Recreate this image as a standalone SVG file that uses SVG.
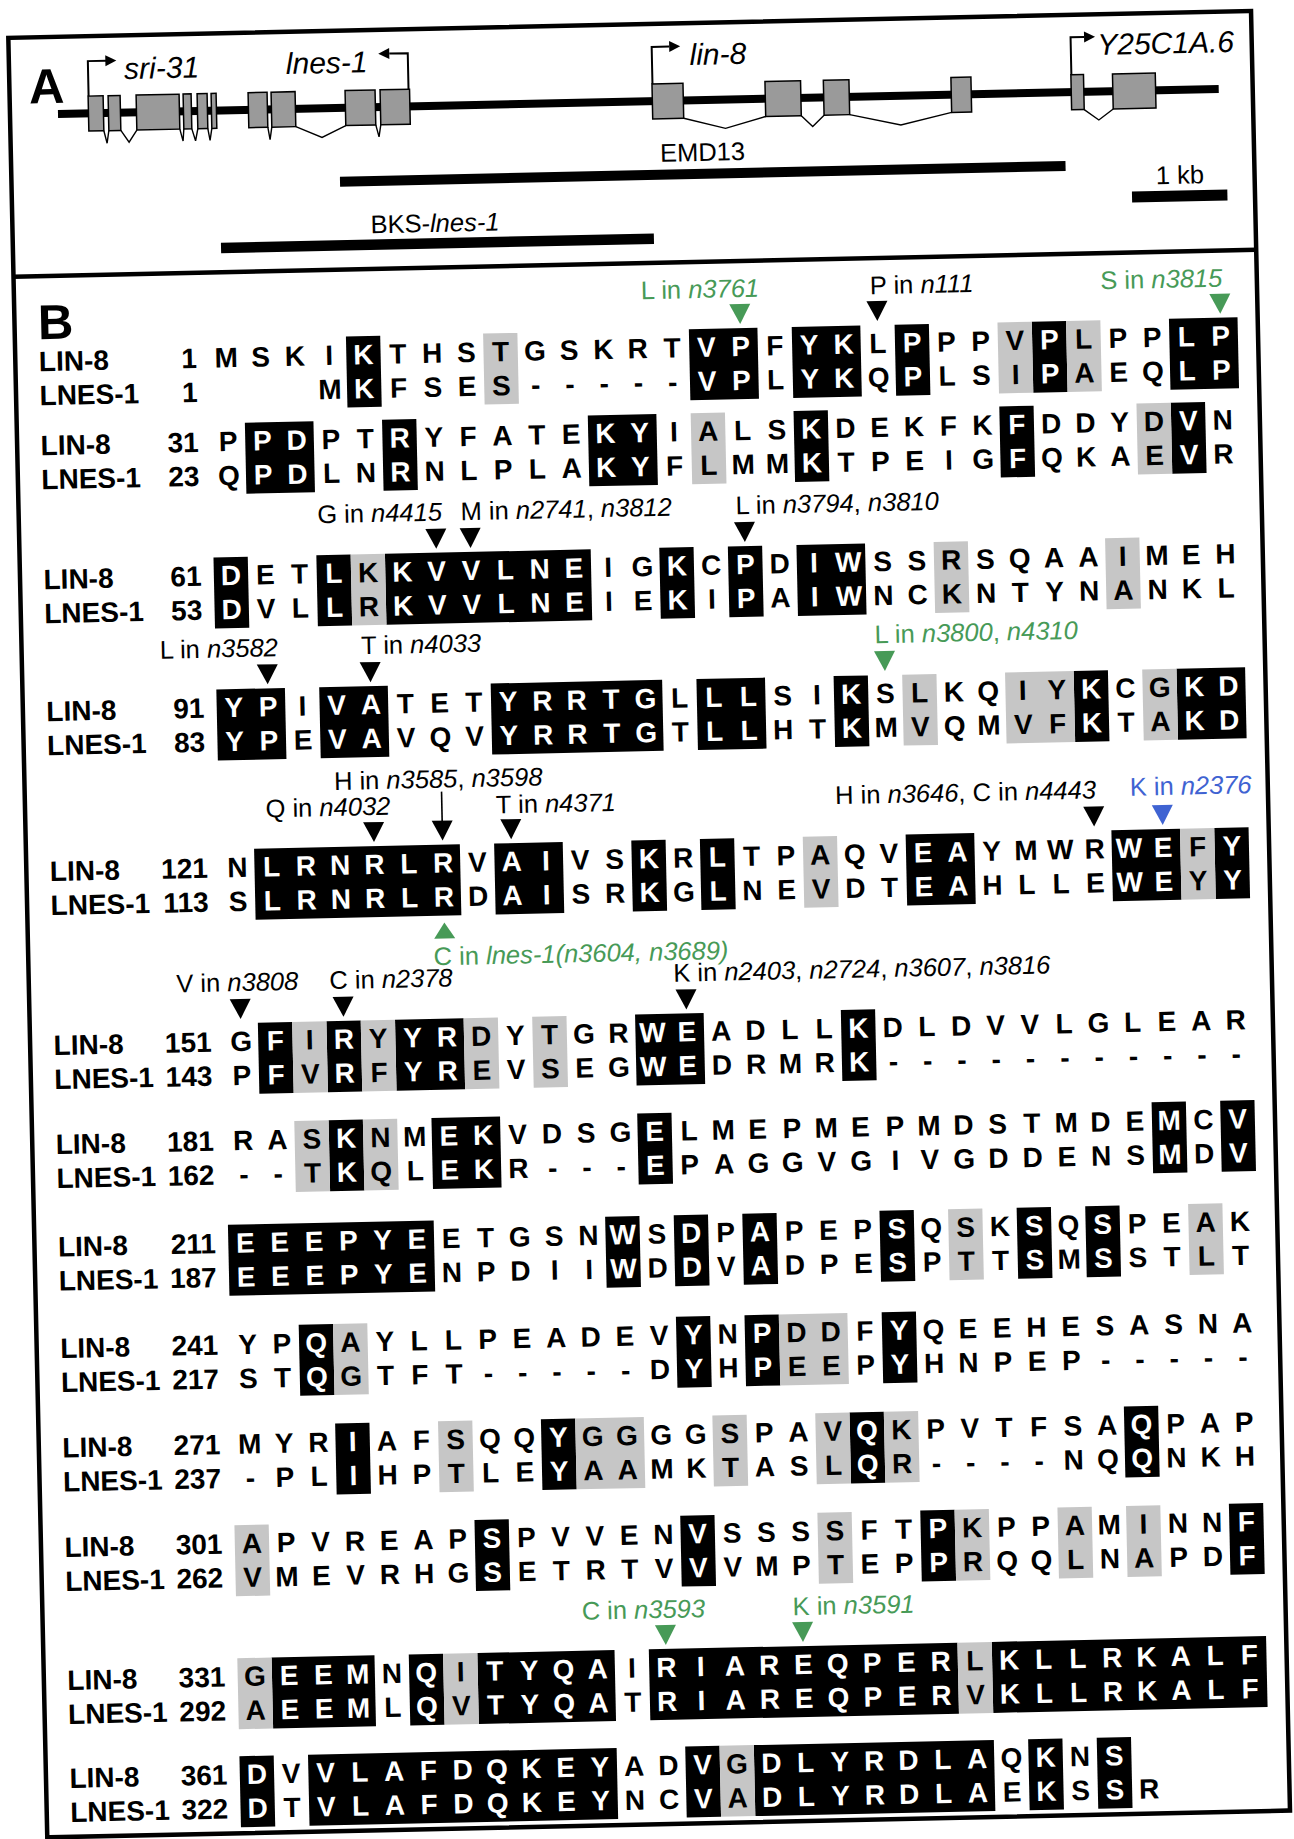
<svg xmlns="http://www.w3.org/2000/svg" width="1294" height="1839" viewBox="0 0 1294 1839">
<style>
text{font-family:'Liberation Sans',Arial,sans-serif}
.r{font-weight:bold;font-size:28px;text-anchor:middle}
.w{fill:#fff}
.lb{font-weight:bold;font-size:28px}
.nm{font-weight:bold;font-size:28px;text-anchor:end}
.an{font-size:25.5px}
.gl{font-size:30px;font-style:italic}
.cl{font-size:25.5px}
.it{font-style:italic}
.gn{fill:#479a57}
.bl{fill:#3f63d2}
.k{fill:#000}
.gy{fill:#c6c6c6}
.ex{fill:#9a9a9a;stroke:#000;stroke-width:1.5}
.sp{fill:none;stroke:#000;stroke-width:1.4;stroke-linejoin:miter}
.ar{fill:none;stroke:#000;stroke-width:2}
.pl{font-weight:bold;font-size:49px}
</style>
<defs>
<polygon id="t" points="-10.5,-52 10.5,-52 0,-32"/>
</defs>
<rect width="1294" height="1839" fill="#fff"/>
<g id="figure" transform="rotate(-1.24)">
<rect id="frame" x="7.5" y="38" width="1243" height="1800" fill="none" stroke="#000" stroke-width="4.5"/>
<line id="divider" x1="7.5" y1="277" x2="1250.5" y2="277" stroke="#000" stroke-width="4.5"/>

<g id="panelA">
<text class="pl" x="27" y="104">A</text>
<rect id="chromosome" x="55.5" y="111.3" width="1161" height="8" class="k"/>
<g id="exons">
<rect class="ex" x="86" y="98" width="15" height="35"/>
<rect class="ex" x="106" y="98" width="12" height="35"/>
<rect class="ex" x="134" y="98" width="43" height="35"/>
<rect class="ex" x="181" y="98" width="8" height="35"/>
<rect class="ex" x="195" y="98" width="10" height="35"/>
<rect class="ex" x="209" y="98" width="5" height="35"/>
<rect class="ex" x="246" y="98" width="19" height="35"/>
<rect class="ex" x="269" y="98" width="24" height="35"/>
<rect class="ex" x="343" y="98" width="30" height="35"/>
<rect class="ex" x="378" y="98" width="29.5" height="35"/>
<rect class="ex" x="650" y="98" width="31" height="35"/>
<rect class="ex" x="763" y="98" width="35.6" height="35"/>
<rect class="ex" x="821.4" y="98" width="25.6" height="35"/>
<rect class="ex" x="949" y="98" width="20" height="35"/>
<rect class="ex" x="1069" y="98" width="12.6" height="35"/>
<rect class="ex" x="1110.6" y="98" width="42.8" height="35"/>
</g>
<g id="introns">
<polyline class="sp" points="101,133 104,145.5 106,133"/>
<polyline class="sp" points="118,133 126,145 134,133"/>
<polyline class="sp" points="177,133 180,145 181,133"/>
<polyline class="sp" points="189,133 192.5,145 195,133"/>
<polyline class="sp" points="205,133 207,145 209,133"/>
<polyline class="sp" points="265,133 267,145.5 269,133"/>
<polyline class="sp" points="293,133 319,144.3 343,133"/>
<polyline class="sp" points="373,133 376,145 378,133"/>
<polyline class="sp" points="681,133 722.6,144 763,133"/>
<polyline class="sp" points="798.6,133 809.8,144 821.4,133"/>
<polyline class="sp" points="847,133 898,144.5 949,133"/>
<polyline class="sp" points="1081.6,133 1096,143.7 1110.6,133"/>
</g>
<g id="tss">
<polyline class="ar" points="86.5,98 86.5,63 105,63"/>
<polygon class="k" points="104,57.5 115,63 104,68.5"/>
<polyline class="ar" points="406.5,98 406.5,62 388,62"/>
<polygon class="k" points="388,56.5 377,62 388,67.5"/>
<polyline class="ar" points="650.5,98 650.5,61 668,61"/>
<polygon class="k" points="668,55.5 679,61 668,66.5"/>
<polyline class="ar" points="1069.5,98 1069.5,60.5 1083,60.5"/>
<polygon class="k" points="1083,55 1094,60.5 1083,66"/>
</g>
<text class="gl" x="122.6" y="81.7">sri-31</text>
<text class="gl" x="284.4" y="80.2">lnes-1</text>
<text class="gl" x="688.2" y="79.9">lin-8</text>
<text class="gl" x="1096" y="78.7">Y25C1A.6</text>
<g id="clones">
<rect class="k" x="336" y="184" width="725.7" height="10"/>
<text class="cl" x="656.5" y="176">EMD13</text>
<rect class="k" x="215.6" y="247.5" width="433" height="10.5"/>
<text class="cl" x="365.5" y="241.3">BKS-<tspan class="it">lnes-1</tspan></text>
<rect class="k" x="1127.5" y="216" width="95.4" height="11"/>
<text class="cl" x="1151.8" y="209.3">1 kb</text>
</g>
</g>

<g id="panelB">
<text class="pl" x="31" y="340">B</text>

<g id="block1" transform="translate(0,372)">
<rect class="k" x="338.55" y="-28" width="34.3" height="71"/><rect class="k" x="681.55" y="-28" width="68.6" height="71"/><rect class="k" x="784.45" y="-28" width="68.6" height="71"/><rect class="k" x="887.35" y="-28" width="34.3" height="71"/><rect class="k" x="1024.55" y="-28" width="34.3" height="71"/><rect class="k" x="1161.75" y="-28" width="68.6" height="71"/>
<rect class="gy" x="475.75" y="-28" width="34.3" height="71"/><rect class="gy" x="990.25" y="-28" width="34.3" height="71"/><rect class="gy" x="1058.85" y="-28" width="34.3" height="71"/>
<text class="lb" x="31" y="0">LIN-8</text><text class="lb" x="31" y="34">LNES-1</text>
<text class="nm" x="189" y="0">1</text><text class="nm" x="189" y="34">1</text>
<text class="r" y="0" x="218.5 252.8 287.1 321.4 355.7 390 424.3 458.6 492.9 527.2 561.5 595.8 630.1 664.4 698.7 733 767.3 801.6 835.9 870.2 904.5 938.8 973.1 1007.4 1041.7 1076 1110.3 1144.6 1178.9 1213.2">MSKI<tspan class="w">K</tspan>THSTGSKRT<tspan class="w">VP</tspan>F<tspan class="w">YK</tspan>L<tspan class="w">P</tspan>PPV<tspan class="w">P</tspan>LPP<tspan class="w">LP</tspan></text>
<text class="r" y="34" x="321.4 355.7 390 424.3 458.6 492.9 527.2 561.5 595.8 630.1 664.4 698.7 733 767.3 801.6 835.9 870.2 904.5 938.8 973.1 1007.4 1041.7 1076 1110.3 1144.6 1178.9 1213.2">M<tspan class="w">K</tspan>FSES-----<tspan class="w">VP</tspan>L<tspan class="w">YK</tspan>Q<tspan class="w">P</tspan>LSI<tspan class="w">P</tspan>AEQ<tspan class="w">LP</tspan></text>
<g id="ann1">
<text class="an gn" x="634.5" y="-59">L in <tspan class="it">n3761</tspan></text>
<use href="#t" x="733" class="gn"/>
<text class="an" x="863.5" y="-59">P in <tspan class="it">n111</tspan></text>
<use href="#t" x="870.2"/>
<text class="an gn" x="1094" y="-59">S in <tspan class="it">n3815</tspan></text>
<use href="#t" x="1213.2" class="gn"/>
</g>
</g>

<g id="block2" transform="translate(0,456)">
<rect class="k" x="235.65" y="-28" width="68.6" height="71"/><rect class="k" x="372.85" y="-28" width="34.3" height="71"/><rect class="k" x="578.65" y="-28" width="68.6" height="71"/><rect class="k" x="784.45" y="-28" width="34.3" height="71"/><rect class="k" x="990.25" y="-28" width="34.3" height="71"/><rect class="k" x="1161.75" y="-28" width="34.3" height="71"/>
<rect class="gy" x="681.55" y="-28" width="34.3" height="71"/><rect class="gy" x="1127.45" y="-28" width="34.3" height="71"/>
<text class="lb" x="31" y="0">LIN-8</text><text class="lb" x="31" y="34">LNES-1</text>
<text class="nm" x="189" y="0">31</text><text class="nm" x="189" y="34">23</text>
<text class="r" y="0" x="218.5 252.8 287.1 321.4 355.7 390 424.3 458.6 492.9 527.2 561.5 595.8 630.1 664.4 698.7 733 767.3 801.6 835.9 870.2 904.5 938.8 973.1 1007.4 1041.7 1076 1110.3 1144.6 1178.9 1213.2">P<tspan class="w">PD</tspan>PT<tspan class="w">R</tspan>YFATE<tspan class="w">KY</tspan>IALS<tspan class="w">K</tspan>DEKFK<tspan class="w">F</tspan>DDYD<tspan class="w">V</tspan>N</text>
<text class="r" y="34" x="218.5 252.8 287.1 321.4 355.7 390 424.3 458.6 492.9 527.2 561.5 595.8 630.1 664.4 698.7 733 767.3 801.6 835.9 870.2 904.5 938.8 973.1 1007.4 1041.7 1076 1110.3 1144.6 1178.9 1213.2">Q<tspan class="w">PD</tspan>LN<tspan class="w">R</tspan>NLPLA<tspan class="w">KY</tspan>FLMM<tspan class="w">K</tspan>TPEIG<tspan class="w">F</tspan>QKAE<tspan class="w">V</tspan>R</text>
</g>

<g id="block3" transform="translate(0,590)">
<rect class="k" x="201.35" y="-28" width="34.3" height="71"/><rect class="k" x="304.25" y="-28" width="34.3" height="71"/><rect class="k" x="372.85" y="-28" width="205.8" height="71"/><rect class="k" x="647.25" y="-28" width="34.3" height="71"/><rect class="k" x="715.85" y="-28" width="34.3" height="71"/><rect class="k" x="784.45" y="-28" width="68.6" height="71"/>
<rect class="gy" x="338.55" y="-28" width="34.3" height="71"/><rect class="gy" x="921.65" y="-28" width="34.3" height="71"/><rect class="gy" x="1093.15" y="-28" width="34.3" height="71"/>
<text class="lb" x="31" y="0">LIN-8</text><text class="lb" x="31" y="34">LNES-1</text>
<text class="nm" x="189" y="0">61</text><text class="nm" x="189" y="34">53</text>
<text class="r" y="0" x="218.5 252.8 287.1 321.4 355.7 390 424.3 458.6 492.9 527.2 561.5 595.8 630.1 664.4 698.7 733 767.3 801.6 835.9 870.2 904.5 938.8 973.1 1007.4 1041.7 1076 1110.3 1144.6 1178.9 1213.2"><tspan class="w">D</tspan>ET<tspan class="w">L</tspan>K<tspan class="w">KVVLNE</tspan>IG<tspan class="w">K</tspan>C<tspan class="w">P</tspan>D<tspan class="w">IW</tspan>SSRSQAAIMEH</text>
<text class="r" y="34" x="218.5 252.8 287.1 321.4 355.7 390 424.3 458.6 492.9 527.2 561.5 595.8 630.1 664.4 698.7 733 767.3 801.6 835.9 870.2 904.5 938.8 973.1 1007.4 1041.7 1076 1110.3 1144.6 1178.9 1213.2"><tspan class="w">D</tspan>VL<tspan class="w">L</tspan>R<tspan class="w">KVVLNE</tspan>IE<tspan class="w">K</tspan>I<tspan class="w">P</tspan>A<tspan class="w">IW</tspan>NCKNTYNANKL</text>
<g id="ann3">
<text class="an" x="306" y="-60">G in <tspan class="it">n4415</tspan></text>
<use href="#t" x="424.3"/>
<text class="an" x="449.4" y="-60">M in <tspan class="it">n2741</tspan>, <tspan class="it">n3812</tspan></text>
<use href="#t" x="458.6"/>
<text class="an" x="724.4" y="-60">L in <tspan class="it">n3794</tspan>, <tspan class="it">n3810</tspan></text>
<use href="#t" x="733"/>
</g>
</g>

<g id="block4" transform="translate(0,722)">
<rect class="k" x="201.35" y="-28" width="68.6" height="71"/><rect class="k" x="304.25" y="-28" width="68.6" height="71"/><rect class="k" x="475.75" y="-28" width="171.5" height="71"/><rect class="k" x="681.55" y="-28" width="68.6" height="71"/><rect class="k" x="818.75" y="-28" width="34.3" height="71"/><rect class="k" x="1058.85" y="-28" width="34.3" height="71"/><rect class="k" x="1161.75" y="-28" width="68.6" height="71"/>
<rect class="gy" x="887.35" y="-28" width="34.3" height="71"/><rect class="gy" x="990.25" y="-28" width="68.6" height="71"/><rect class="gy" x="1127.45" y="-28" width="34.3" height="71"/>
<text class="lb" x="31" y="0">LIN-8</text><text class="lb" x="31" y="34">LNES-1</text>
<text class="nm" x="189" y="0">91</text><text class="nm" x="189" y="34">83</text>
<text class="r" y="0" x="218.5 252.8 287.1 321.4 355.7 390 424.3 458.6 492.9 527.2 561.5 595.8 630.1 664.4 698.7 733 767.3 801.6 835.9 870.2 904.5 938.8 973.1 1007.4 1041.7 1076 1110.3 1144.6 1178.9 1213.2"><tspan class="w">YP</tspan>I<tspan class="w">VA</tspan>TET<tspan class="w">YRRTG</tspan>L<tspan class="w">LL</tspan>SI<tspan class="w">K</tspan>SLKQIY<tspan class="w">K</tspan>CG<tspan class="w">KD</tspan></text>
<text class="r" y="34" x="218.5 252.8 287.1 321.4 355.7 390 424.3 458.6 492.9 527.2 561.5 595.8 630.1 664.4 698.7 733 767.3 801.6 835.9 870.2 904.5 938.8 973.1 1007.4 1041.7 1076 1110.3 1144.6 1178.9 1213.2"><tspan class="w">YP</tspan>E<tspan class="w">VA</tspan>VQV<tspan class="w">YRRTG</tspan>T<tspan class="w">LL</tspan>HT<tspan class="w">K</tspan>MVQMVF<tspan class="w">K</tspan>TA<tspan class="w">KD</tspan></text>
<g id="ann4">
<text class="an" x="145.6" y="-60">L in <tspan class="it">n3582</tspan></text>
<use href="#t" x="252.8"/>
<text class="an" x="347" y="-60">T in <tspan class="it">n4033</tspan></text>
<use href="#t" x="355.7"/>
<text class="an gn" x="860.6" y="-60">L in <tspan class="it">n3800</tspan>, <tspan class="it">n4310</tspan></text>
<use href="#t" x="870.2" class="gn"/>
</g>
</g>

<g id="block5" transform="translate(0,882)">
<rect class="k" x="235.65" y="-28" width="205.8" height="71"/><rect class="k" x="475.75" y="-28" width="68.6" height="71"/><rect class="k" x="612.95" y="-28" width="34.3" height="71"/><rect class="k" x="681.55" y="-28" width="34.3" height="71"/><rect class="k" x="887.35" y="-28" width="68.6" height="71"/><rect class="k" x="1093.15" y="-28" width="68.6" height="71"/><rect class="k" x="1196.05" y="-28" width="34.3" height="71"/>
<rect class="gy" x="784.45" y="-28" width="34.3" height="71"/><rect class="gy" x="1161.75" y="-28" width="34.3" height="71"/>
<text class="lb" x="31" y="0">LIN-8</text><text class="lb" x="31" y="34">LNES-1</text>
<text class="nm" x="189" y="0">121</text><text class="nm" x="189" y="34">113</text>
<text class="r" y="0" x="218.5 252.8 287.1 321.4 355.7 390 424.3 458.6 492.9 527.2 561.5 595.8 630.1 664.4 698.7 733 767.3 801.6 835.9 870.2 904.5 938.8 973.1 1007.4 1041.7 1076 1110.3 1144.6 1178.9 1213.2">N<tspan class="w">LRNRLR</tspan>V<tspan class="w">AI</tspan>VS<tspan class="w">K</tspan>R<tspan class="w">L</tspan>TPAQV<tspan class="w">EA</tspan>YMWR<tspan class="w">WE</tspan>F<tspan class="w">Y</tspan></text>
<text class="r" y="34" x="218.5 252.8 287.1 321.4 355.7 390 424.3 458.6 492.9 527.2 561.5 595.8 630.1 664.4 698.7 733 767.3 801.6 835.9 870.2 904.5 938.8 973.1 1007.4 1041.7 1076 1110.3 1144.6 1178.9 1213.2">S<tspan class="w">LRNRLR</tspan>D<tspan class="w">AI</tspan>SR<tspan class="w">K</tspan>G<tspan class="w">L</tspan>NEVDT<tspan class="w">EA</tspan>HLLE<tspan class="w">WE</tspan>Y<tspan class="w">Y</tspan></text>
<g id="ann5">
<text class="an" x="248" y="-59">Q in <tspan class="it">n4032</tspan></text>
<use href="#t" x="355.7"/>
<text class="an" x="317" y="-85">H in <tspan class="it">n3585</tspan>, <tspan class="it">n3598</tspan></text>
<line x1="424.3" y1="-81" x2="424.3" y2="-50" stroke="#000" stroke-width="1.6"/>
<use href="#t" x="424.3"/>
<text class="an" x="478.3" y="-58">T in <tspan class="it">n4371</tspan></text>
<use href="#t" x="492.9"/>
<text class="an" x="817.7" y="-60">H in <tspan class="it">n3646</tspan>, C in <tspan class="it">n4443</tspan></text>
<use href="#t" x="1076"/>
<text class="an bl" x="1112.4" y="-62">K in <tspan class="it">n2376</tspan></text>
<use href="#t" x="1144.6" class="bl"/>
<polygon class="gn" points="413.8,66 434.8,66 424.3,50"/>
<text class="an gn" x="412.8" y="92.5">C in <tspan class="it">lnes-1(n3604, n3689)</tspan></text>
</g>
</g>

<g id="block6" transform="translate(0,1056)">
<rect class="k" x="235.65" y="-28" width="34.3" height="71"/><rect class="k" x="304.25" y="-28" width="34.3" height="71"/><rect class="k" x="372.85" y="-28" width="68.6" height="71"/><rect class="k" x="612.95" y="-28" width="68.6" height="71"/><rect class="k" x="818.75" y="-28" width="34.3" height="71"/>
<rect class="gy" x="269.95" y="-28" width="34.3" height="71"/><rect class="gy" x="338.55" y="-28" width="34.3" height="71"/><rect class="gy" x="441.45" y="-28" width="34.3" height="71"/><rect class="gy" x="510.05" y="-28" width="34.3" height="71"/>
<text class="lb" x="31" y="0">LIN-8</text><text class="lb" x="31" y="34">LNES-1</text>
<text class="nm" x="189" y="0">151</text><text class="nm" x="189" y="34">143</text>
<text class="r" y="0" x="218.5 252.8 287.1 321.4 355.7 390 424.3 458.6 492.9 527.2 561.5 595.8 630.1 664.4 698.7 733 767.3 801.6 835.9 870.2 904.5 938.8 973.1 1007.4 1041.7 1076 1110.3 1144.6 1178.9 1213.2">G<tspan class="w">F</tspan>I<tspan class="w">R</tspan>Y<tspan class="w">YR</tspan>DYTGR<tspan class="w">WE</tspan>ADLL<tspan class="w">K</tspan>DLDVVLGLEAR</text>
<text class="r" y="34" x="218.5 252.8 287.1 321.4 355.7 390 424.3 458.6 492.9 527.2 561.5 595.8 630.1 664.4 698.7 733 767.3 801.6 835.9 870.2 904.5 938.8 973.1 1007.4 1041.7 1076 1110.3 1144.6 1178.9 1213.2">P<tspan class="w">F</tspan>V<tspan class="w">R</tspan>F<tspan class="w">YR</tspan>EVSEG<tspan class="w">WE</tspan>DRMR<tspan class="w">K</tspan>-----------</text>
<g id="ann6">
<text class="an" x="155" y="-60">V in <tspan class="it">n3808</tspan></text>
<use href="#t" x="218.5"/>
<text class="an" x="308" y="-60">C in <tspan class="it">n2378</tspan></text>
<use href="#t" x="321.4"/>
<text class="an" x="652" y="-60">K in <tspan class="it">n2403</tspan>, <tspan class="it">n2724</tspan>, <tspan class="it">n3607</tspan>, <tspan class="it">n3816</tspan></text>
<use href="#t" x="664.4"/>
</g>
</g>

<g id="block7" transform="translate(0,1155)">
<rect class="k" x="304.25" y="-28" width="34.3" height="71"/><rect class="k" x="407.15" y="-28" width="68.6" height="71"/><rect class="k" x="612.95" y="-28" width="34.3" height="71"/><rect class="k" x="1127.45" y="-28" width="34.3" height="71"/><rect class="k" x="1196.05" y="-28" width="34.3" height="71"/>
<rect class="gy" x="269.95" y="-28" width="34.3" height="71"/><rect class="gy" x="338.55" y="-28" width="34.3" height="71"/>
<text class="lb" x="31" y="0">LIN-8</text><text class="lb" x="31" y="34">LNES-1</text>
<text class="nm" x="189" y="0">181</text><text class="nm" x="189" y="34">162</text>
<text class="r" y="0" x="218.5 252.8 287.1 321.4 355.7 390 424.3 458.6 492.9 527.2 561.5 595.8 630.1 664.4 698.7 733 767.3 801.6 835.9 870.2 904.5 938.8 973.1 1007.4 1041.7 1076 1110.3 1144.6 1178.9 1213.2">RAS<tspan class="w">K</tspan>NM<tspan class="w">EK</tspan>VDSG<tspan class="w">E</tspan>LMEPMEPMDSTMDE<tspan class="w">M</tspan>C<tspan class="w">V</tspan></text>
<text class="r" y="34" x="218.5 252.8 287.1 321.4 355.7 390 424.3 458.6 492.9 527.2 561.5 595.8 630.1 664.4 698.7 733 767.3 801.6 835.9 870.2 904.5 938.8 973.1 1007.4 1041.7 1076 1110.3 1144.6 1178.9 1213.2">--T<tspan class="w">K</tspan>QL<tspan class="w">EK</tspan>R---<tspan class="w">E</tspan>PAGGVGIVGDDENS<tspan class="w">M</tspan>D<tspan class="w">V</tspan></text>
</g>

<g id="block8" transform="translate(0,1257.5)">
<rect class="k" x="201.35" y="-28" width="205.8" height="71"/><rect class="k" x="578.65" y="-28" width="34.3" height="71"/><rect class="k" x="647.25" y="-28" width="34.3" height="71"/><rect class="k" x="715.85" y="-28" width="34.3" height="71"/><rect class="k" x="853.05" y="-28" width="34.3" height="71"/><rect class="k" x="990.25" y="-28" width="34.3" height="71"/><rect class="k" x="1058.85" y="-28" width="34.3" height="71"/>
<rect class="gy" x="921.65" y="-28" width="34.3" height="71"/><rect class="gy" x="1161.75" y="-28" width="34.3" height="71"/>
<text class="lb" x="31" y="0">LIN-8</text><text class="lb" x="31" y="34">LNES-1</text>
<text class="nm" x="189" y="0">211</text><text class="nm" x="189" y="34">187</text>
<text class="r" y="0" x="218.5 252.8 287.1 321.4 355.7 390 424.3 458.6 492.9 527.2 561.5 595.8 630.1 664.4 698.7 733 767.3 801.6 835.9 870.2 904.5 938.8 973.1 1007.4 1041.7 1076 1110.3 1144.6 1178.9 1213.2"><tspan class="w">EEEPYE</tspan>ETGSN<tspan class="w">W</tspan>S<tspan class="w">D</tspan>P<tspan class="w">A</tspan>PEP<tspan class="w">S</tspan>QSK<tspan class="w">S</tspan>Q<tspan class="w">S</tspan>PEAK</text>
<text class="r" y="34" x="218.5 252.8 287.1 321.4 355.7 390 424.3 458.6 492.9 527.2 561.5 595.8 630.1 664.4 698.7 733 767.3 801.6 835.9 870.2 904.5 938.8 973.1 1007.4 1041.7 1076 1110.3 1144.6 1178.9 1213.2"><tspan class="w">EEEPYE</tspan>NPDII<tspan class="w">W</tspan>D<tspan class="w">D</tspan>V<tspan class="w">A</tspan>DPE<tspan class="w">S</tspan>PTT<tspan class="w">S</tspan>M<tspan class="w">S</tspan>STLT</text>
</g>

<g id="block9" transform="translate(0,1359)">
<rect class="k" x="269.95" y="-28" width="34.3" height="71"/><rect class="k" x="647.25" y="-28" width="34.3" height="71"/><rect class="k" x="715.85" y="-28" width="34.3" height="71"/><rect class="k" x="853.05" y="-28" width="34.3" height="71"/>
<rect class="gy" x="304.25" y="-28" width="34.3" height="71"/><rect class="gy" x="750.15" y="-28" width="68.6" height="71"/>
<text class="lb" x="31" y="0">LIN-8</text><text class="lb" x="31" y="34">LNES-1</text>
<text class="nm" x="189" y="0">241</text><text class="nm" x="189" y="34">217</text>
<text class="r" y="0" x="218.5 252.8 287.1 321.4 355.7 390 424.3 458.6 492.9 527.2 561.5 595.8 630.1 664.4 698.7 733 767.3 801.6 835.9 870.2 904.5 938.8 973.1 1007.4 1041.7 1076 1110.3 1144.6 1178.9 1213.2">YP<tspan class="w">Q</tspan>AYLLPEADEV<tspan class="w">Y</tspan>N<tspan class="w">P</tspan>DDF<tspan class="w">Y</tspan>QEEHESASNA</text>
<text class="r" y="34" x="218.5 252.8 287.1 321.4 355.7 390 424.3 458.6 492.9 527.2 561.5 595.8 630.1 664.4 698.7 733 767.3 801.6 835.9 870.2 904.5 938.8 973.1 1007.4 1041.7 1076 1110.3 1144.6 1178.9 1213.2">ST<tspan class="w">Q</tspan>GTFT-----D<tspan class="w">Y</tspan>H<tspan class="w">P</tspan>EEP<tspan class="w">Y</tspan>HNPEP-----</text>
</g>

<g id="block10" transform="translate(0,1458.5)">
<rect class="k" x="304.25" y="-28" width="34.3" height="71"/><rect class="k" x="510.05" y="-28" width="34.3" height="71"/><rect class="k" x="818.75" y="-28" width="34.3" height="71"/><rect class="k" x="1093.15" y="-28" width="34.3" height="71"/>
<rect class="gy" x="407.15" y="-28" width="34.3" height="71"/><rect class="gy" x="544.35" y="-28" width="68.6" height="71"/><rect class="gy" x="681.55" y="-28" width="34.3" height="71"/><rect class="gy" x="784.45" y="-28" width="34.3" height="71"/><rect class="gy" x="853.05" y="-28" width="34.3" height="71"/>
<text class="lb" x="31" y="0">LIN-8</text><text class="lb" x="31" y="34">LNES-1</text>
<text class="nm" x="189" y="0">271</text><text class="nm" x="189" y="34">237</text>
<text class="r" y="0" x="218.5 252.8 287.1 321.4 355.7 390 424.3 458.6 492.9 527.2 561.5 595.8 630.1 664.4 698.7 733 767.3 801.6 835.9 870.2 904.5 938.8 973.1 1007.4 1041.7 1076 1110.3 1144.6 1178.9 1213.2">MYR<tspan class="w">I</tspan>AFSQQ<tspan class="w">Y</tspan>GGGGSPAV<tspan class="w">Q</tspan>KPVTFSA<tspan class="w">Q</tspan>PAP</text>
<text class="r" y="34" x="218.5 252.8 287.1 321.4 355.7 390 424.3 458.6 492.9 527.2 561.5 595.8 630.1 664.4 698.7 733 767.3 801.6 835.9 870.2 904.5 938.8 973.1 1007.4 1041.7 1076 1110.3 1144.6 1178.9 1213.2">-PL<tspan class="w">I</tspan>HPTLE<tspan class="w">Y</tspan>AAMKTASL<tspan class="w">Q</tspan>R----NQ<tspan class="w">Q</tspan>NKH</text>
</g>

<g id="block11" transform="translate(0,1558)">
<rect class="k" x="441.45" y="-28" width="34.3" height="71"/><rect class="k" x="647.25" y="-28" width="34.3" height="71"/><rect class="k" x="887.35" y="-28" width="34.3" height="71"/><rect class="k" x="1196.05" y="-28" width="34.3" height="71"/>
<rect class="gy" x="201.35" y="-28" width="34.3" height="71"/><rect class="gy" x="784.45" y="-28" width="34.3" height="71"/><rect class="gy" x="921.65" y="-28" width="34.3" height="71"/><rect class="gy" x="1024.55" y="-28" width="34.3" height="71"/><rect class="gy" x="1093.15" y="-28" width="34.3" height="71"/>
<text class="lb" x="31" y="0">LIN-8</text><text class="lb" x="31" y="34">LNES-1</text>
<text class="nm" x="189" y="0">301</text><text class="nm" x="189" y="34">262</text>
<text class="r" y="0" x="218.5 252.8 287.1 321.4 355.7 390 424.3 458.6 492.9 527.2 561.5 595.8 630.1 664.4 698.7 733 767.3 801.6 835.9 870.2 904.5 938.8 973.1 1007.4 1041.7 1076 1110.3 1144.6 1178.9 1213.2">APVREAP<tspan class="w">S</tspan>PVVEN<tspan class="w">V</tspan>SSSSFT<tspan class="w">P</tspan>KPPAMINN<tspan class="w">F</tspan></text>
<text class="r" y="34" x="218.5 252.8 287.1 321.4 355.7 390 424.3 458.6 492.9 527.2 561.5 595.8 630.1 664.4 698.7 733 767.3 801.6 835.9 870.2 904.5 938.8 973.1 1007.4 1041.7 1076 1110.3 1144.6 1178.9 1213.2">VMEVRHG<tspan class="w">S</tspan>ETRTV<tspan class="w">V</tspan>VMPTEP<tspan class="w">P</tspan>RQQLNAPD<tspan class="w">F</tspan></text>
</g>

<g id="block12" transform="translate(0,1691)">
<rect class="k" x="235.65" y="-28" width="102.9" height="71"/><rect class="k" x="372.85" y="-28" width="34.3" height="71"/><rect class="k" x="441.45" y="-28" width="137.2" height="71"/><rect class="k" x="612.95" y="-28" width="308.7" height="71"/><rect class="k" x="955.95" y="-28" width="274.4" height="71"/>
<rect class="gy" x="201.35" y="-28" width="34.3" height="71"/><rect class="gy" x="407.15" y="-28" width="34.3" height="71"/><rect class="gy" x="921.65" y="-28" width="34.3" height="71"/>
<text class="lb" x="31" y="0">LIN-8</text><text class="lb" x="31" y="34">LNES-1</text>
<text class="nm" x="189" y="0">331</text><text class="nm" x="189" y="34">292</text>
<text class="r" y="0" x="218.5 252.8 287.1 321.4 355.7 390 424.3 458.6 492.9 527.2 561.5 595.8 630.1 664.4 698.7 733 767.3 801.6 835.9 870.2 904.5 938.8 973.1 1007.4 1041.7 1076 1110.3 1144.6 1178.9 1213.2">G<tspan class="w">EEM</tspan>N<tspan class="w">Q</tspan>I<tspan class="w">TYQA</tspan>I<tspan class="w">RIAREQPER</tspan>L<tspan class="w">KLLRKALF</tspan></text>
<text class="r" y="34" x="218.5 252.8 287.1 321.4 355.7 390 424.3 458.6 492.9 527.2 561.5 595.8 630.1 664.4 698.7 733 767.3 801.6 835.9 870.2 904.5 938.8 973.1 1007.4 1041.7 1076 1110.3 1144.6 1178.9 1213.2">A<tspan class="w">EEM</tspan>L<tspan class="w">Q</tspan>V<tspan class="w">TYQA</tspan>T<tspan class="w">RIAREQPER</tspan>V<tspan class="w">KLLRKALF</tspan></text>
<g id="ann12">
<text class="an gn" x="546.7" y="-59">C in <tspan class="it">n3593</tspan></text>
<use href="#t" x="630.1" class="gn"/>
<text class="an gn" x="757.7" y="-59">K in <tspan class="it">n3591</tspan></text>
<use href="#t" x="767.3" class="gn"/>
</g>
</g>

<g id="block13" transform="translate(0,1789)">
<rect class="k" x="201.35" y="-28" width="34.3" height="71"/><rect class="k" x="269.95" y="-28" width="308.7" height="71"/><rect class="k" x="647.25" y="-28" width="34.3" height="71"/><rect class="k" x="715.85" y="-28" width="240.1" height="71"/><rect class="k" x="990.25" y="-28" width="34.3" height="71"/><rect class="k" x="1058.85" y="-28" width="34.3" height="71"/>
<rect class="gy" x="681.55" y="-28" width="34.3" height="71"/>
<text class="lb" x="31" y="0">LIN-8</text><text class="lb" x="31" y="34">LNES-1</text>
<text class="nm" x="189" y="0">361</text><text class="nm" x="189" y="34">322</text>
<text class="r" y="0" x="218.5 252.8 287.1 321.4 355.7 390 424.3 458.6 492.9 527.2 561.5 595.8 630.1 664.4 698.7 733 767.3 801.6 835.9 870.2 904.5 938.8 973.1 1007.4 1041.7 1076"><tspan class="w">D</tspan>V<tspan class="w">VLAFDQKEY</tspan>AD<tspan class="w">V</tspan>G<tspan class="w">DLYRDLA</tspan>Q<tspan class="w">K</tspan>N<tspan class="w">S</tspan></text>
<text class="r" y="34" x="218.5 252.8 287.1 321.4 355.7 390 424.3 458.6 492.9 527.2 561.5 595.8 630.1 664.4 698.7 733 767.3 801.6 835.9 870.2 904.5 938.8 973.1 1007.4 1041.7 1076 1110.3"><tspan class="w">D</tspan>T<tspan class="w">VLAFDQKEY</tspan>NC<tspan class="w">V</tspan>A<tspan class="w">DLYRDLA</tspan>E<tspan class="w">K</tspan>S<tspan class="w">S</tspan>R</text>
</g>
</g>
</g>
</svg>
